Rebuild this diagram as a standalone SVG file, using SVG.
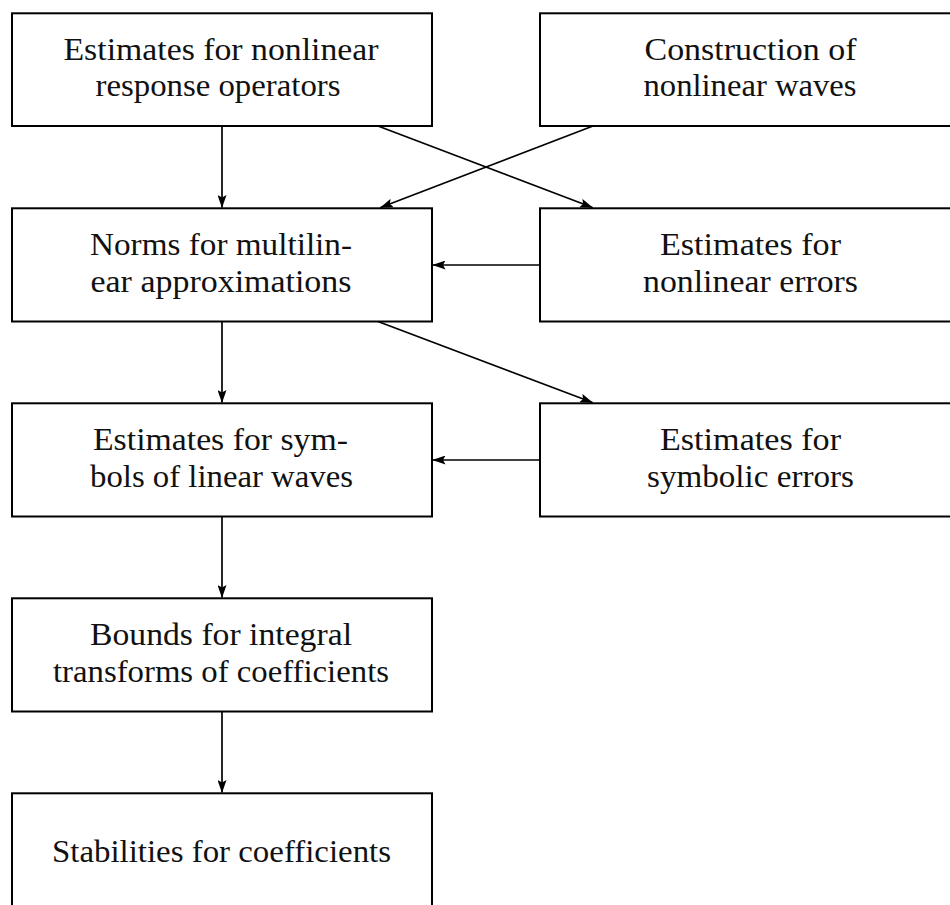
<svg xmlns="http://www.w3.org/2000/svg" width="950" height="905" viewBox="0 0 950 905">
<style>
  .box { fill: #ffffff; stroke: #000000; stroke-width: 2; }
  .lbl { font-family: "Liberation Serif", "Times New Roman", serif; font-size: 32px; fill: #111111; text-anchor: middle; }
  .edge { stroke: #000000; stroke-width: 1.7; fill: none; marker-end: url(#arr); }
</style>
<defs>
  <marker id="arr" viewBox="0 0 13 9" refX="12.5" refY="4.5" markerWidth="13" markerHeight="9" markerUnits="userSpaceOnUse" orient="auto">
    <path d="M0,0 L13,4.5 L0,9 L2.5,4.5 Z" fill="#000000"/>
  </marker>
</defs>
<rect width="950" height="905" fill="#ffffff"/>

<g id="connectors">
  <line class="edge" x1="222" y1="126" x2="222" y2="207.5"/>
  <line class="edge" x1="378" y1="126" x2="592.5" y2="207.5"/>
  <line class="edge" x1="593" y1="126" x2="380.5" y2="207.5"/>
  <line class="edge" x1="540" y1="265" x2="433" y2="265"/>
  <line class="edge" x1="222" y1="321.5" x2="222" y2="402.5"/>
  <line class="edge" x1="378" y1="321.5" x2="592.5" y2="402.5"/>
  <line class="edge" x1="540" y1="460" x2="433" y2="460"/>
  <line class="edge" x1="222" y1="516.5" x2="222" y2="597.5"/>
  <line class="edge" x1="222" y1="711.5" x2="222" y2="792.5"/>
</g>

<g id="n1">
  <rect class="box" x="12" y="13.3" width="420" height="112.7"/>
  <text class="lbl" x="221" y="59.5" textLength="315" lengthAdjust="spacingAndGlyphs">Estimates for nonlinear</text>
  <text class="lbl" x="218" y="95.5" textLength="245" lengthAdjust="spacingAndGlyphs">response operators</text>
</g>

<g id="n2">
  <rect class="box" x="540" y="13.3" width="430" height="112.7"/>
  <text class="lbl" x="750.5" y="59.5" textLength="212" lengthAdjust="spacingAndGlyphs">Construction of</text>
  <text class="lbl" x="750" y="95.5" textLength="213" lengthAdjust="spacingAndGlyphs">nonlinear waves</text>
</g>

<g id="n3">
  <rect class="box" x="12" y="208.3" width="420" height="113.2"/>
  <text class="lbl" x="221" y="255" textLength="262" lengthAdjust="spacingAndGlyphs">Norms for multilin-</text>
  <text class="lbl" x="221" y="291.5" textLength="261" lengthAdjust="spacingAndGlyphs">ear approximations</text>
</g>

<g id="n4">
  <rect class="box" x="540" y="208.3" width="430" height="113.2"/>
  <text class="lbl" x="750.5" y="255" textLength="181" lengthAdjust="spacingAndGlyphs">Estimates for</text>
  <text class="lbl" x="750.5" y="291.5" textLength="215" lengthAdjust="spacingAndGlyphs">nonlinear errors</text>
</g>

<g id="n5">
  <rect class="box" x="12" y="403.3" width="420" height="113.2"/>
  <text class="lbl" x="220.5" y="450" textLength="255" lengthAdjust="spacingAndGlyphs">Estimates for sym-</text>
  <text class="lbl" x="221.5" y="486.5" textLength="263" lengthAdjust="spacingAndGlyphs">bols of linear waves</text>
</g>

<g id="n6">
  <rect class="box" x="540" y="403.3" width="430" height="113.2"/>
  <text class="lbl" x="750.5" y="450" textLength="181" lengthAdjust="spacingAndGlyphs">Estimates for</text>
  <text class="lbl" x="750.5" y="486.5" textLength="207" lengthAdjust="spacingAndGlyphs">symbolic errors</text>
</g>

<g id="n7">
  <rect class="box" x="12" y="598.3" width="420" height="113.2"/>
  <text class="lbl" x="221" y="645" textLength="262" lengthAdjust="spacingAndGlyphs">Bounds for integral</text>
  <text class="lbl" x="221" y="681.5" textLength="336" lengthAdjust="spacingAndGlyphs">transforms of coefficients</text>
</g>

<g id="n8">
  <rect class="box" x="12" y="793.3" width="420" height="150"/>
  <text class="lbl" x="221.5" y="861.5" textLength="339" lengthAdjust="spacingAndGlyphs">Stabilities for coefficients</text>
</g>
</svg>
